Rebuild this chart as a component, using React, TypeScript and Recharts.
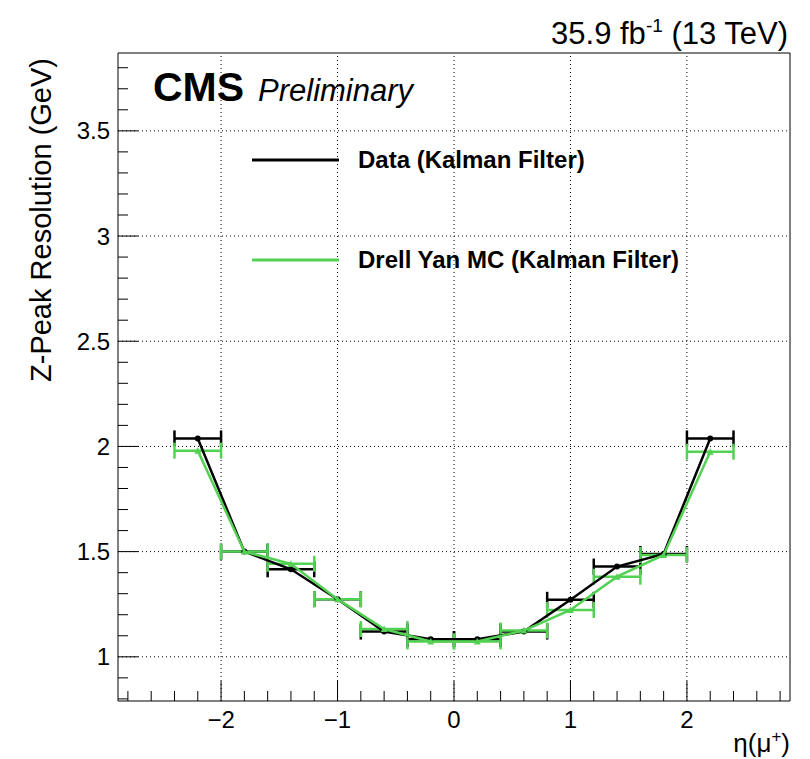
import React from "react";
import {
  ComposedChart,
  Scatter,
  XAxis,
  YAxis,
  ErrorBar,
  ReferenceLine,
} from "recharts";

// eta bin centres and half widths
const etaBins = [-2.2, -1.8, -1.4, -1.0, -0.6, -0.2, 0.2, 0.6, 1.0, 1.4, 1.8, 2.2];
const etaHalfWidth = [0.2, 0.2, 0.2, 0.2, 0.2, 0.2, 0.2, 0.2, 0.2, 0.2, 0.2, 0.2];

// Z-peak resolution (GeV)
const dataRes = [2.038, 1.5, 1.416, 1.274, 1.12, 1.084, 1.084, 1.12, 1.271, 1.429, 1.489, 2.038];
const mcRes = [1.98, 1.5, 1.442, 1.274, 1.132, 1.073, 1.073, 1.125, 1.223, 1.381, 1.484, 1.975];

const xTicks = [
  -2.8, -2.6, -2.4, -2.2, -2, -1.8, -1.6, -1.4, -1.2, -1, -0.8, -0.6, -0.4, -0.2, 0,
  0.2, 0.4, 0.6, 0.8, 1, 1.2, 1.4, 1.6, 1.8, 2, 2.2, 2.4, 2.6, 2.8,
];
const yTicks = [
  0.8, 0.9, 1, 1.1, 1.2, 1.3, 1.4, 1.5, 1.6, 1.7, 1.8, 1.9, 2, 2.1, 2.2, 2.3, 2.4,
  2.5, 2.6, 2.7, 2.8, 2.9, 3, 3.1, 3.2, 3.3, 3.4, 3.5, 3.6, 3.7, 3.8,
];
const xMajor = [-2, -1, 0, 1, 2];
const yMajor = [1, 1.5, 2, 2.5, 3, 3.5];

const X_DOMAIN: [number, number] = [-2.885, 2.885];
const Y_DOMAIN: [number, number] = [0.79, 3.87];

const GREEN = "#52d152";
const FONT = "'Liberation Sans', Arial, Helvetica, sans-serif";

const dataPts = etaBins.map((x, i) => ({ x, y: dataRes[i], xerr: etaHalfWidth[i] }));
const mcPts = etaBins.map((x, i) => ({ x, y: mcRes[i], xerr: etaHalfWidth[i] }));

const isMajor = (v: number, step: number) =>
  Math.abs(v / step - Math.round(v / step)) < 1e-6;

const fmt = (v: number) => (v < 0 ? "\u2212" + String(-v) : String(v));

const XTick = (props: any) => {
  const { x, y, payload } = props;
  const major = isMajor(payload.value, 1);
  return (
    <g>
      <line x1={x} x2={x} y1={y} y2={y - (major ? 20 : 10)} stroke="#000" strokeWidth={1} />
      {major && (
        <text x={x} y={y + 27} textAnchor="middle" fontSize={24} fontFamily={FONT} fill="#000">
          {fmt(payload.value)}
        </text>
      )}
    </g>
  );
};

const YTick = (props: any) => {
  const { x, y, payload } = props;
  const major = isMajor(payload.value, 0.5);
  return (
    <g>
      <line x1={x} x2={x + (major ? 20 : 10)} y1={y} y2={y} stroke="#000" strokeWidth={1} />
      {major && (
        <text x={x - 8} y={y + 8.5} textAnchor="end" fontSize={24} fontFamily={FONT} fill="#000">
          {payload.value}
        </text>
      )}
    </g>
  );
};

const dot = (props: any) => <circle cx={props.cx} cy={props.cy} r={3} fill="#000" />;
const tri = (props: any) => (
  <path
    d={`M${props.cx},${props.cy - 3.5}L${props.cx + 3.5},${props.cy + 3}L${props.cx - 3.5},${props.cy + 3}Z`}
    fill={GREEN}
  />
);

export default function App() {
  return (
    <div style={{ position: "absolute", left: 0, top: 0, width: 810, height: 759, background: "#fff" }}>
      <ComposedChart
        width={810}
        height={759}
        margin={{ top: 53, right: 20, bottom: 0, left: 0 }}
      >
        <XAxis
          type="number"
          dataKey="x"
          domain={X_DOMAIN}
          allowDataOverflow
          ticks={xTicks}
          interval={0}
          height={58}
          tickLine={false}
          tickSize={0}
          tickMargin={0}
          tick={XTick}
          axisLine={{ stroke: "#000", strokeWidth: 1 }}
        />
        <YAxis
          type="number"
          dataKey="y"
          domain={Y_DOMAIN}
          allowDataOverflow
          ticks={yTicks}
          interval={0}
          width={118}
          tickLine={false}
          tickSize={0}
          tickMargin={0}
          tick={YTick}
          axisLine={{ stroke: "#000", strokeWidth: 1 }}
        />
        {xMajor.map((v) => (
          <ReferenceLine key={"gx" + v} x={v} stroke="#000" strokeWidth={1} strokeDasharray="1 3" />
        ))}
        {yMajor.map((v) => (
          <ReferenceLine key={"gy" + v} y={v} stroke="#000" strokeWidth={1} strokeDasharray="1 3" />
        ))}
        {/* frame */}
        <ReferenceLine x={X_DOMAIN[1]} stroke="#000" strokeWidth={1} />
        <ReferenceLine y={Y_DOMAIN[1]} stroke="#000" strokeWidth={1} />

        <Scatter
          data={dataPts}
          fill="#000"
          line={{ stroke: "#000", strokeWidth: 2.5 }}
          shape={dot}
          isAnimationActive={false}
        >
          <ErrorBar dataKey="xerr" direction="x" width={8} stroke="#000" strokeWidth={2.5} />
        </Scatter>
        <Scatter
          data={mcPts}
          fill={GREEN}
          line={{ stroke: GREEN, strokeWidth: 2.5 }}
          shape={tri}
          isAnimationActive={false}
        >
          <ErrorBar dataKey="xerr" direction="x" width={8} stroke={GREEN} strokeWidth={2.5} />
        </Scatter>
      </ComposedChart>

      <svg
        width={810}
        height={759}
        style={{ position: "absolute", left: 0, top: 0, pointerEvents: "none" }}
        fontFamily={FONT}
      >
        <text x={788} y={44} textAnchor="end" fontSize={31} fill="#000">
          35.9 fb<tspan dy={-12} fontSize={19}>-1</tspan>
          <tspan dy={12}> (13 TeV)</tspan>
        </text>
        <text x={153} y={101} fontSize={41} fontWeight="bold" fill="#000">CMS</text>
        <text x={258} y={101} fontSize={31} fontStyle="italic" fill="#000">Preliminary</text>

        <line x1={252} x2={339} y1={160} y2={160} stroke="#000" strokeWidth={3} />
        <text x={358} y={168} fontSize={24} fontWeight="bold" fill="#000">Data (Kalman Filter)</text>
        <line x1={252} x2={339} y1={260} y2={260} stroke={GREEN} strokeWidth={3} />
        <text x={358} y={268} fontSize={24} fontWeight="bold" fill="#000">Drell Yan MC (Kalman Filter)</text>

        <text
          transform="translate(51,58) rotate(-90)"
          textAnchor="end"
          fontSize={29}
          fill="#000"
        >
          Z-Peak Resolution (GeV)
        </text>
        <text x={790} y={752} textAnchor="end" fontSize={26} fill="#000">
          η(μ<tspan dy={-10} fontSize={17}>+</tspan>
          <tspan dy={10}>)</tspan>
        </text>
      </svg>
    </div>
  );
}
